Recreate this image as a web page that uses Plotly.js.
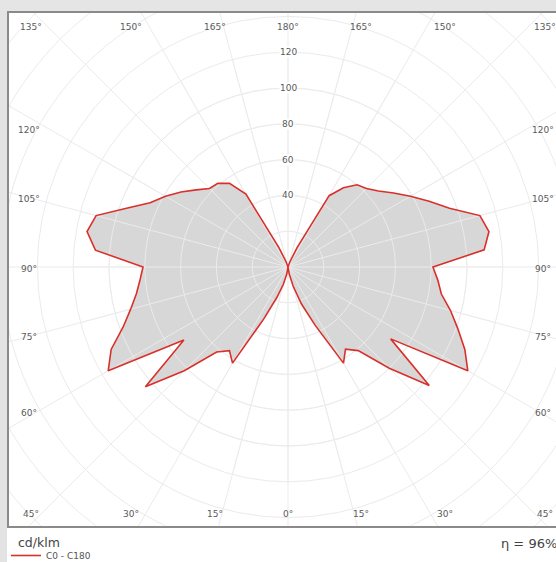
<!DOCTYPE html>
<html><head><meta charset="utf-8">
<script src="https://cdn.plot.ly/plotly-3.0.1.min.js"></script>
<style>html,body{margin:0;padding:0;background:#fff;overflow:hidden}#chart{width:556px;height:562px}</style>
</head><body><div id="chart"></div>
<script>
// ---------- data ----------
const gammaDeg = [0,5,10,15,20,25,30,35,40,45,50,55,60,65,70,75,80,85,90,95,100,105,110,115,120,125,130,135,140,145,150,155,160,165,170,175,180];
const c0Values   = [0,0,4,11,22,36,62,56,61,80,103,70,116,109,101,94,87,84,81,110,114,111,96,87,79,72,66,62,60,54,46,12,3,0,0,0,0];
const c180Values = [0,0,4,10,18,32,62,57,62,82,104,71,116,109,98,91,86,83,81,108,114,111,96,85,79,73,67,62,61,57,47,12,3,0,0,0,0];
const radialTickValues = [40,60,80,100,120];
const gridRadii = [20,40,60,80,100,120,140,160,180,200];
const gridAngles = [0,15,30,45,60,75,90,105,120,135,150,165,180,195,210,225,240,255,270,285,300,315,330,345];
const topLabels = ['135°','150°','165°','180°','165°','150°','135°'];
const bottomLabels = ['45°','30°','15°','0°','15°','30°','45°'];
const sideLabels = ['120°','105°','90°','75°','60°'];
const unitLabel = 'cd/klm';
const efficiencyLabel = 'η = 96%';
const seriesName = 'C0 - C180';

// ---------- geometry ----------
const W = 556, H = 562, ML = 9, MT = 13, MR = 0, MB = 36;
const PW = W - ML - MR, PH = H - MT - MB;
const CX = 288, CY = 267, S = 1.79; // px per cd/klm
const RMAX = 120;
const R = RMAX * S;
const xr = [(ML - CX) / S, (W - MR - CX) / S];
const yr = [-(H - MB - CY) / S, (CY - MT) / S];
const dom = {
  x: [(CX - R - ML) / PW, (CX + R - ML) / PW],
  y: [(H - MB - CY - R) / PH, (H - MB - CY + R) / PH]
};
const px2dx = p => (p - CX) / S;
const py2dy = p => (CY - p) / S;
const px2paper = p => (p - ML) / PW;
const py2paper = p => (H - MB - p) / PH;

// closed curve: C0 on the right, C180 on the left
const theta = gammaDeg.concat(gammaDeg.slice().reverse().map(g => 360 - g));
const rvals = c0Values.concat(c180Values.slice().reverse());

const gridColor = '#ebebeb';
const lblFont = {family: 'DejaVu Sans, Verdana, sans-serif', size: 9, color: '#5a5a5a'};

const traces = [
  {type: 'scatterpolar', subplot: 'polar', r: rvals, theta: theta, mode: 'lines',
   fill: 'toself', fillcolor: '#d7d7d7', line: {width: 0, color: 'rgba(0,0,0,0)'},
   showlegend: false, hoverinfo: 'skip'},
  {type: 'scatterpolar', subplot: 'polar2', r: rvals, theta: theta, mode: 'lines',
   name: seriesName, line: {color: '#d9302b', width: 1.6}, showlegend: true, hoverinfo: 'skip'}
];

const angAxisCommon = {rotation: 270, direction: 'counterclockwise', showline: false, ticks: '',
  showticklabels: false, tickmode: 'linear', tick0: 0};
const radAxisCommon = {range: [0, RMAX], showline: false, ticks: '', showticklabels: false, tickmode: 'linear', tick0: 0};

const shapes = [];
gridRadii.forEach(r => shapes.push({type: 'circle', xref: 'x', yref: 'y', x0: -r, x1: r, y0: -r, y1: r,
  line: {color: gridColor, width: 1}, layer: 'below'}));
gridAngles.forEach(a => {
  const t = a * Math.PI / 180;
  shapes.push({type: 'line', xref: 'x', yref: 'y', x0: 0, y0: 0, x1: 260 * Math.sin(t), y1: -260 * Math.cos(t),
    line: {color: gridColor, width: 1}, layer: 'below'});
});
// grey page edge strips
shapes.push({type: 'rect', xref: 'paper', yref: 'paper', x0: px2paper(0), x1: px2paper(7), y0: py2paper(H), y1: py2paper(0),
  fillcolor: '#e3e3e3', line: {width: 0}, layer: 'below'});
shapes.push({type: 'rect', xref: 'paper', yref: 'paper', x0: px2paper(0), x1: px2paper(W), y0: py2paper(11), y1: py2paper(0),
  fillcolor: '#e5e5e5', line: {width: 0}, layer: 'below'});

const annotations = [];
const hOff = [-257, -157, -73, 0, 73, 157, 257];
topLabels.forEach((t, i) => annotations.push({xref: 'x', yref: 'y', x: px2dx(CX + hOff[i]), y: py2dy(27),
  text: t, showarrow: false, font: lblFont, xanchor: 'center', yanchor: 'middle'}));
bottomLabels.forEach((t, i) => annotations.push({xref: 'x', yref: 'y', x: px2dx(CX + hOff[i]), y: py2dy(514),
  text: t, showarrow: false, font: lblFont, xanchor: 'center', yanchor: 'middle'}));
const vOff = [-137, -68, 2, 70, 146];
sideLabels.forEach((t, i) => {
  annotations.push({xref: 'x', yref: 'y', x: px2dx(29), y: py2dy(CY + vOff[i]), text: t, showarrow: false,
    font: lblFont, xanchor: 'center', yanchor: 'middle'});
  annotations.push({xref: 'x', yref: 'y', x: px2dx(543), y: py2dy(CY + vOff[i]), text: t, showarrow: false,
    font: lblFont, xanchor: 'center', yanchor: 'middle'});
});
radialTickValues.forEach(v => annotations.push({xref: 'x', yref: 'y', x: 0, y: v, text: String(v), showarrow: false,
  font: lblFont, xanchor: 'center', yanchor: 'middle', bgcolor: '#ffffff', borderpad: 0}));
annotations.push({xref: 'paper', yref: 'paper', x: px2paper(16), y: py2paper(542), text: unitLabel, showarrow: false,
  font: {family: 'DejaVu Sans, Verdana, sans-serif', size: 12.5, color: '#444'}, xanchor: 'left', yanchor: 'middle'});
annotations.push({xref: 'paper', yref: 'paper', x: px2paper(499), y: py2paper(543), text: efficiencyLabel, showarrow: false,
  font: {family: 'DejaVu Sans, Verdana, sans-serif', size: 13, color: '#444'}, xanchor: 'left', yanchor: 'middle'});

const layout = {
  width: W, height: H,
  margin: {l: ML, r: MR, t: MT, b: MB, autoexpand: false},
  paper_bgcolor: '#ffffff', plot_bgcolor: '#ffffff',
  xaxis: {range: xr, showgrid: false, zeroline: false, showticklabels: false, ticks: '',
    showline: true, mirror: true, linecolor: '#8a8a8a', linewidth: 2, fixedrange: true},
  yaxis: {range: yr, showgrid: false, zeroline: false, showticklabels: false, ticks: '',
    showline: true, mirror: false, linecolor: '#8a8a8a', linewidth: 2, fixedrange: true},
  polar: {domain: dom, bgcolor: 'rgba(0,0,0,0)',
    angularaxis: Object.assign({}, angAxisCommon, {dtick: 5, showgrid: true, gridcolor: 'rgba(255,255,255,0.45)', gridwidth: 1, layer: 'above traces'}),
    radialaxis: Object.assign({}, radAxisCommon, {dtick: 10, showgrid: true, gridcolor: 'rgba(255,255,255,0.45)', gridwidth: 1, layer: 'above traces'})},
  polar2: {domain: dom, bgcolor: 'rgba(0,0,0,0)',
    angularaxis: Object.assign({}, angAxisCommon, {dtick: 15, showgrid: true, gridcolor: gridColor, gridwidth: 1, layer: 'below traces'}),
    radialaxis: Object.assign({}, radAxisCommon, {dtick: 20, showgrid: true, gridcolor: gridColor, gridwidth: 1, layer: 'below traces'})},
  showlegend: true,
  legend: {x: px2paper(6), xanchor: 'left', y: py2paper(541), yanchor: 'top',
    font: {family: 'DejaVu Sans, Verdana, sans-serif', size: 9, color: '#555'},
    bgcolor: 'rgba(0,0,0,0)', borderwidth: 0, itemwidth: 30},
  shapes: shapes,
  annotations: annotations
};

Plotly.newPlot('chart', traces, layout, {displayModeBar: false, staticPlot: true});
</script></body></html>
